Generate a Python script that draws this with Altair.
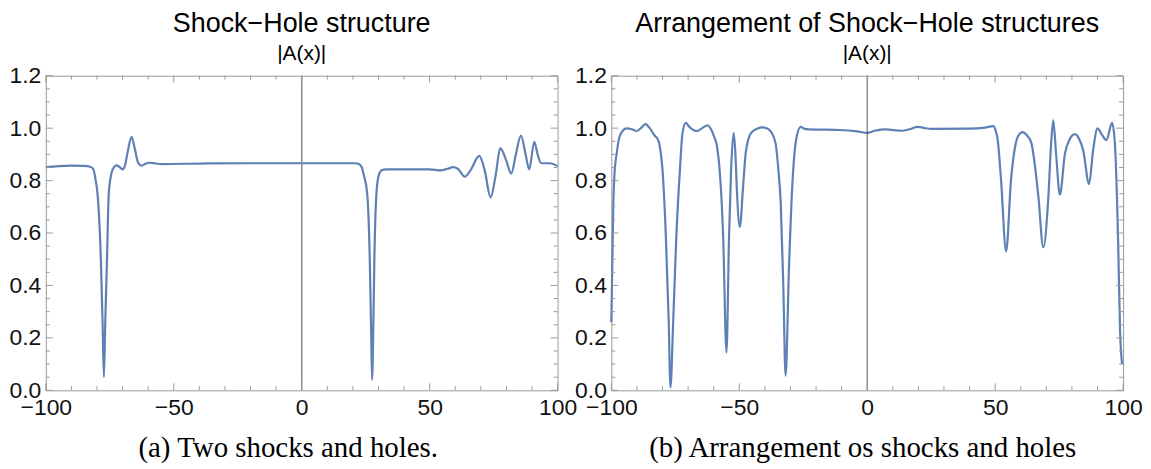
import altair as alt
import pandas as pd

# ---------------- data ----------------
left_x = [-100, -95, -90, -85, -82.5, -81.5, -80.5, -79.8, -78.5, -77.8, -77.3, -76.8, -76.1, -75.4,
          -74.3, -73.3, -72.4, -71.2, -70, -69, -68, -66.5, -65.2, -64, -62.6, -61, -59.5, -57, -55,
          -40, -20, 0, 15, 21, 22.5, 23.5, 24.3, 25.6, 26.6, 27.1, 27.5, 28.0, 28.4, 29.2, 30.1, 31.4,
          33, 45, 50, 54.3, 57, 59.2, 61, 63.8, 66, 69.4, 71.5, 73.8, 75.8, 77.6, 79.8, 81.9, 83.7,
          85.7, 87.5, 88.9, 90.9, 92.2, 93.5, 95, 97, 100]
left_y = [0.851, 0.855, 0.857, 0.856, 0.852, 0.845, 0.80, 0.75, 0.50, 0.25, 0.05, 0.25, 0.50, 0.75,
          0.83, 0.852, 0.858, 0.852, 0.843, 0.86, 0.91, 0.967, 0.92, 0.87, 0.857, 0.864, 0.868, 0.865, 0.863,
          0.865, 0.866, 0.866, 0.866, 0.866, 0.862, 0.85, 0.82, 0.75, 0.50, 0.247, 0.04, 0.247, 0.50, 0.75, 0.82, 0.84,
          0.843, 0.843, 0.843, 0.839, 0.845, 0.851, 0.845, 0.815, 0.84, 0.894, 0.84, 0.736, 0.82, 0.924, 0.88, 0.827, 0.9,
          0.972, 0.9, 0.843, 0.948, 0.90, 0.867, 0.866, 0.866, 0.855]

right_x = [-100, -99.6, -99.2, -98.8, -97.9, -96.8, -95.5, -94.3, -92, -90.1, -88.5, -86.7, -85, -83.2,
           -82, -81.3, -80.5, -80, -78.7, -77.6, -76.9, -75.8, -74.6, -73.2, -72.2, -70.9, -69.5, -66.7,
           -64.5, -62.4, -61, -59.8, -58.7, -57.9, -56.3, -55.0, -54.0, -53.2, -52.2, -51.5, -51.0, -49.8,
           -48.5, -47.5, -45.5, -43, -41, -39.1, -37.5, -35.8, -34.8, -33.8, -32.8, -31.9, -30.6, -29.3,
           -27.8, -26.0, -24.5, -22.8, -11.1, -4, 0, 3, 7.1, 13.6, 16.5, 19.8, 22.5, 25.3, 39.6, 46, 49.3,
           50.2, 51, 52.3, 54.3, 56.2, 57.8, 59, 60.7, 62.5, 64.2, 65.5, 66.9, 68.8, 70.8, 71.8, 72.7, 73.8,
           75.3, 77.3, 79, 81.2, 83, 84.4, 86.7, 88.3, 90, 91.7, 93.5, 95.7, 96.8, 98.1, 98.8, 99.6]
right_y = [0.26, 0.50, 0.72, 0.82, 0.904, 0.967, 0.99, 0.999, 0.996, 0.989, 1.0, 1.015, 1.0, 0.973,
           0.96, 0.942, 0.89, 0.84, 0.588, 0.27, 0.011, 0.27, 0.588, 0.84, 0.98, 1.02, 1.005, 0.989,
           1.0, 1.011, 0.995, 0.967, 0.93, 0.866, 0.588, 0.144, 0.588, 0.84, 0.982, 0.9, 0.778, 0.623,
           0.778, 0.904, 0.98, 0.998, 1.003, 0.999, 0.985, 0.942, 0.85, 0.714, 0.40, 0.056, 0.461, 0.777,
           0.955, 1.005, 0.997, 0.995, 0.993, 0.988, 0.982, 0.99, 0.995, 0.99, 0.996, 1.005, 1.0, 0.997, 0.998, 1.002, 1.008,
           0.99, 0.955, 0.803, 0.53, 0.803, 0.929, 0.97, 0.985, 0.972, 0.942, 0.86, 0.739, 0.546, 0.739, 0.929, 1.03, 0.904,
           0.746, 0.904, 0.955, 0.977, 0.955, 0.917, 0.787, 0.917, 0.999, 0.975, 0.955, 1.02, 0.942, 0.55, 0.233, 0.1]

titles = ["Shock\u2212Hole structure", "Arrangement of Shock\u2212Hole structures"]
subtitle = "|A(x)|"
captions = ["(a) Two shocks and holes.", "(b) Arrangement os shocks and holes"]

x_major = [-100, -50, 0, 50, 100]
x_minor = [-90, -80, -70, -60, -40, -30, -20, -10, 10, 20, 30, 40, 60, 70, 80, 90]
y_major = [0.0, 0.2, 0.4, 0.6, 0.8, 1.0, 1.2]
y_minor = [0.05, 0.1, 0.15, 0.25, 0.3, 0.35, 0.45, 0.5, 0.55, 0.65, 0.7, 0.75,
           0.85, 0.9, 0.95, 1.05, 1.1, 1.15]

# ---------------- styling ----------------
W, H = 514, 316
LINE = "#5E81B5"
FRAME = "#999999"
SANS = "Liberation Sans"
SERIF = "Liberation Serif"
MAJ, MIN = 7, 4


def panel(xs, ys, title, caption, cap_x, zero_color, zero_w):
    df = pd.DataFrame({"x": xs, "y": ys})
    xsc = alt.Scale(domain=[-100, 100], nice=False, zero=False)
    ysc = alt.Scale(domain=[0, 1.2], nice=False)

    xaxis = alt.Axis(values=x_major, format="d", ticks=False, grid=False, domain=False,
                     labelFont=SANS, labelFontSize=23, labelColor="#111", labelPadding=6,
                     labelOverlap=False, labelFlush=False,
                     title=caption, titleFont=SERIF, titleFontSize=29, titleFontWeight="normal",
                     titleColor="#000", titlePadding=14, titleX=cap_x)
    yaxis = alt.Axis(values=y_major, format=".1f", ticks=False, grid=False, domain=False,
                     labelFont=SANS, labelFontSize=23, labelColor="#111", labelPadding=5,
                     labelOverlap=False, labelFlush=False, title=None)

    X = lambda: alt.X("x:Q", scale=xsc, axis=xaxis)
    Y = lambda: alt.Y("y:Q", scale=ysc, axis=yaxis)

    line = alt.Chart(df).mark_line(color=LINE, strokeWidth=2.2, interpolate="monotone").encode(
        x=X(), y=Y())

    zero = alt.Chart(pd.DataFrame({"x": [0]})).mark_rule(color=zero_color, strokeWidth=zero_w).encode(
        x=X())

    layers = [line, zero]
    for vals, ln in ((x_major, MAJ), (x_minor, MIN)):
        d = pd.DataFrame({"x": vals})
        layers.append(alt.Chart(d).mark_rule(color=FRAME, strokeWidth=1).encode(
            x=X(), y=alt.value(H), y2=alt.value(H - ln)))
        layers.append(alt.Chart(d).mark_rule(color=FRAME, strokeWidth=1).encode(
            x=X(), y=alt.value(0), y2=alt.value(ln)))
    for vals, ln in ((y_major, MAJ), (y_minor, MIN)):
        d = pd.DataFrame({"y": vals})
        layers.append(alt.Chart(d).mark_rule(color=FRAME, strokeWidth=1).encode(
            y=Y(), x=alt.value(0), x2=alt.value(ln)))
        layers.append(alt.Chart(d).mark_rule(color=FRAME, strokeWidth=1).encode(
            y=Y(), x=alt.value(W), x2=alt.value(W - ln)))

    return alt.layer(*layers).properties(
        width=W, height=H,
        title=alt.TitleParams(text=title, subtitle=subtitle, font=SANS, fontSize=27,
                              fontWeight="normal", color="#000", subtitleFont=SANS,
                              subtitleFontSize=21, subtitleColor="#000", subtitlePadding=5,
                              anchor="middle", frame="group", offset=0),
    )


left = panel(left_x, left_y, titles[0], captions[0], 243, "#8a8a8a", 1.5)
right = panel(right_x, right_y, titles[1], captions[1], 252, "#555555", 1)

chart = alt.hconcat(left, right, spacing=54, bounds="flush").properties(
    padding={"left": 0, "top": 0, "right": 0, "bottom": 0},
    background="white",
).configure_view(stroke=FRAME, strokeWidth=1)

chart.save("out.html", embed_options={"renderer": "svg", "actions": False})
